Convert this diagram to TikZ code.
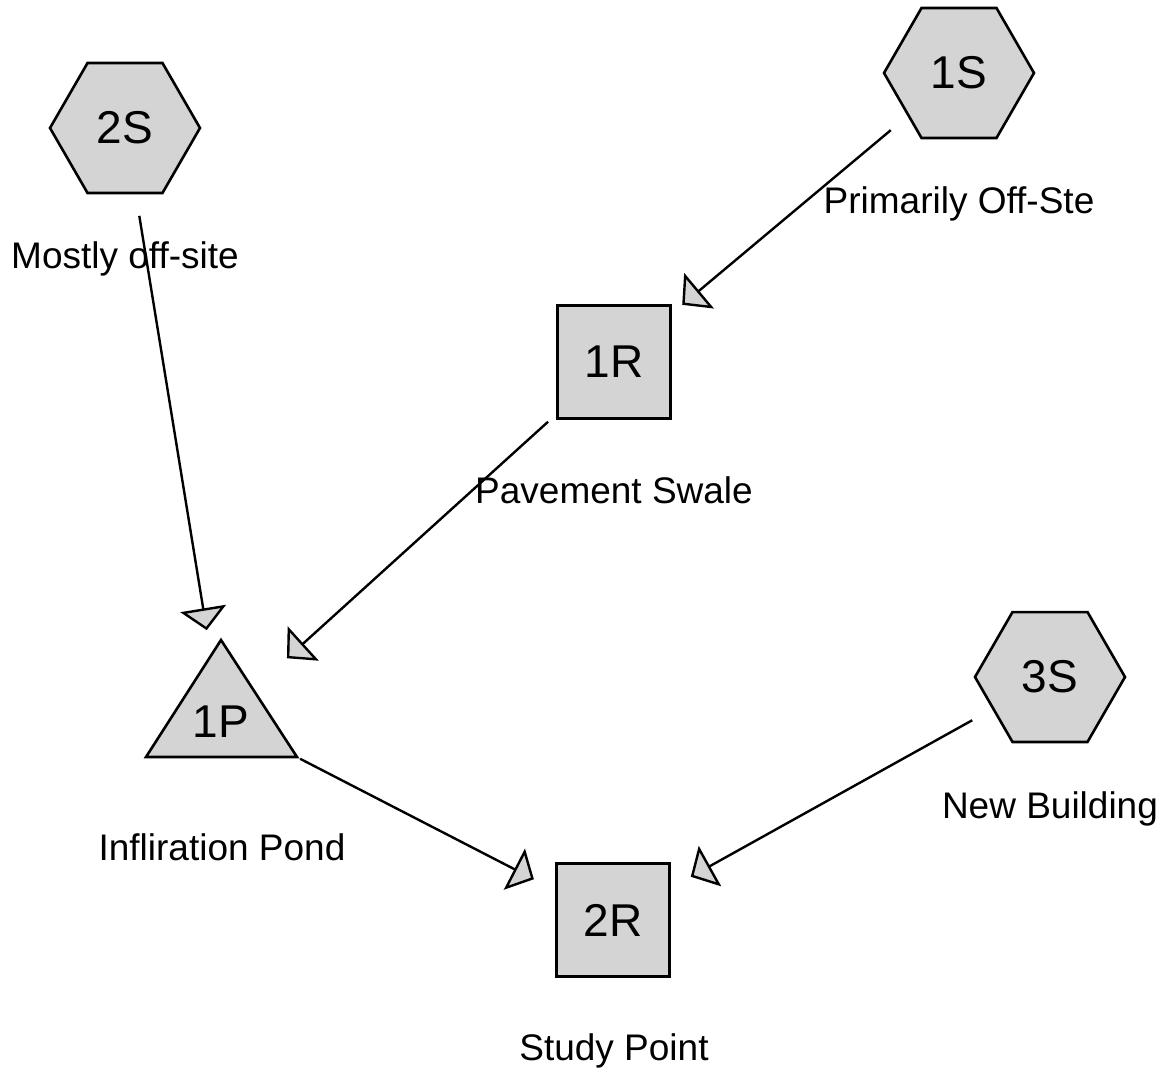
\documentclass[tikz,border=0pt]{standalone}
\usepackage{fontspec}
\setmainfont{Liberation Sans}
\usetikzlibrary{shapes.geometric,arrows.meta}
\begin{document}
\begin{tikzpicture}[x=1pt,y=-1pt,
  shp/.style={draw=black, fill=black!17, line width=2.6pt},
  idfont/.style={font=\fontsize{46}{55}\selectfont},
  hexnode/.style={shp, idfont, regular polygon, regular polygon sides=6, minimum size=150pt, inner sep=0pt, outer sep=0pt},
  sqnode/.style={shp, idfont, rectangle, minimum size=113pt, inner sep=0pt, outer sep=0pt},
  lbl/.style={anchor=base, font=\fontsize{37}{44}\selectfont, inner sep=0pt},
  flow/.style={line width=2.4pt, -{Triangle[length=22pt,width=46pt,fill=black!17]}, shorten <=89pt, shorten >=89pt}]
\useasboundingbox (0,0) rectangle (1168,1070);

% nodes
\node[hexnode] (2S) at (125,128) {2S};
\node[hexnode] (1S) at (959,73) {1S};
\node[hexnode] (3S) at (1050,677) {3S};
\node[sqnode] (1R) at (614,362) {1R};
\node[sqnode] (2R) at (613,920) {2R};
\draw[shp, line join=miter] (146,757) -- (221,640) -- (297,757) -- cycle;
\node[idfont, inner sep=0pt] (1Ptext) at (221,722) {1P};
\coordinate (1P) at (221,718);

% labels
\node[lbl] (l2S) at (125,268) {Mostly off-site};
\node[lbl] (l1S) at (959,213) {Primarily Off-Ste};
\node[lbl] (l1R) at (614,503) {Pavement Swale};
\node[lbl] (l1P) at (222,860) {Infliration Pond};
\node[lbl] (l3S) at (1050,818) {New Building};
\node[lbl] (l2R) at (614,1060) {Study Point};

% connectors
\draw[flow] (2S.center) -- (1P);
\draw[flow] (1S.center) -- (1R.center);
\draw[flow] (1R.center) -- (1P);
\draw[flow] (1P) -- (2R.center);
\draw[flow] (3S.center) -- (2R.center);
\end{tikzpicture}
\end{document}
